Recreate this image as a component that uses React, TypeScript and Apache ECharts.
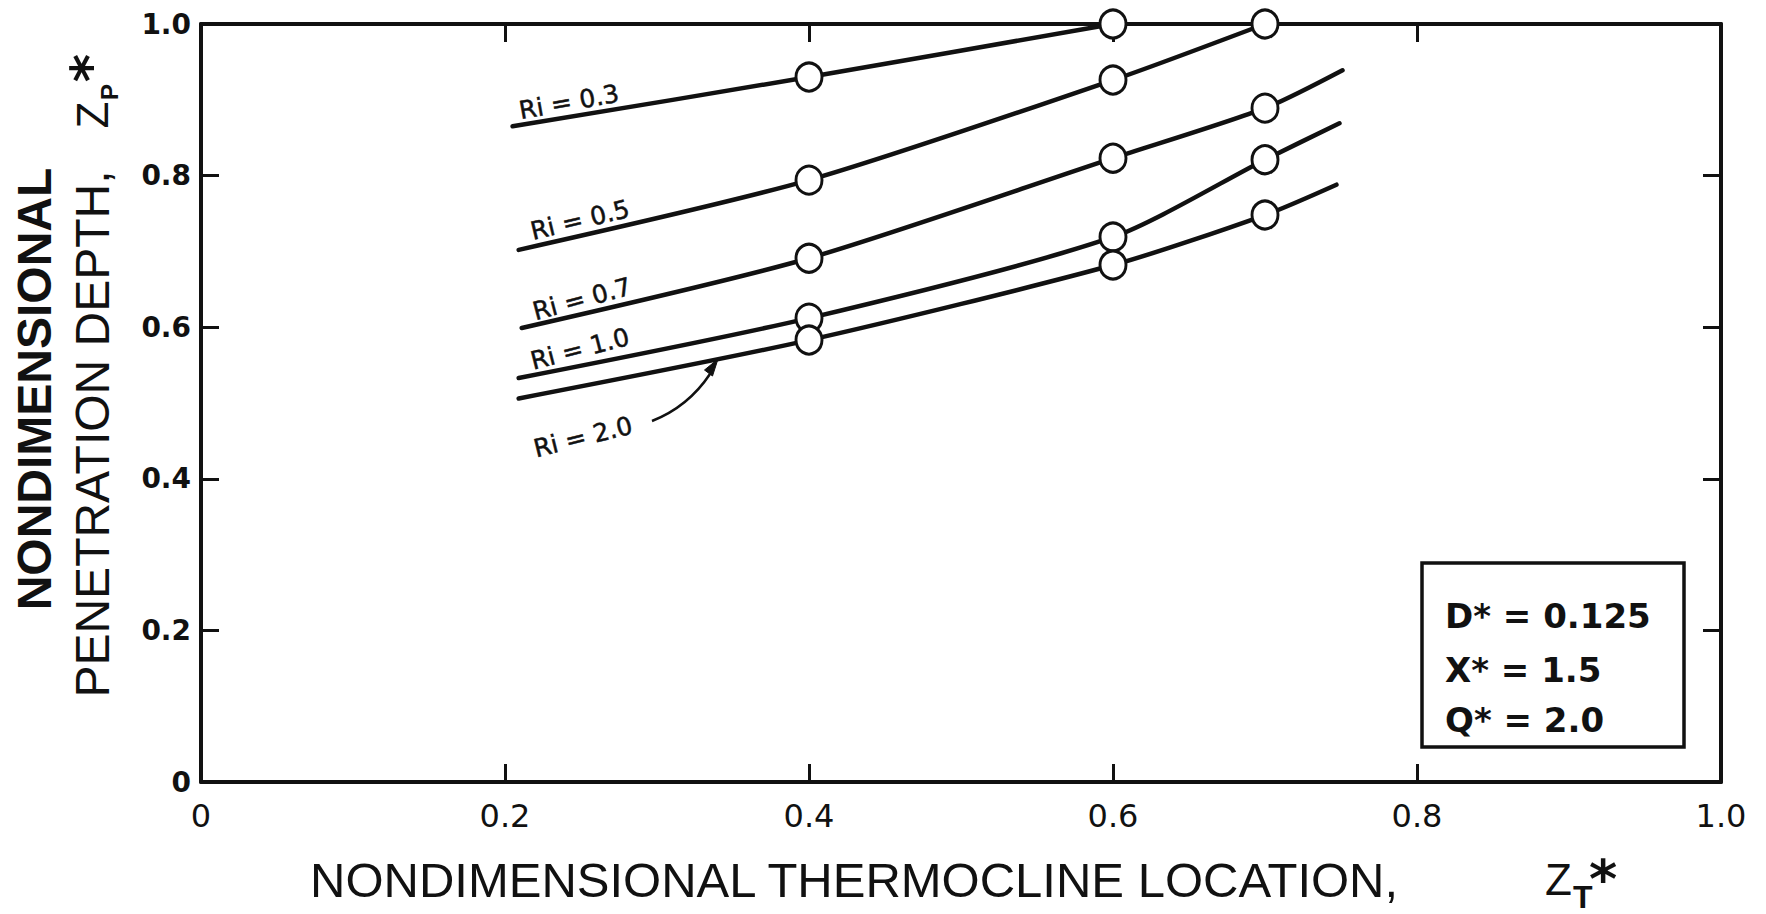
import React, { useEffect, useRef } from "react";
import * as echarts from "echarts";

const INK = "#111111";

// Axis ticks
const xTicks = [0, 0.2, 0.4, 0.6, 0.8, 1.0];
const yTicks = [0, 0.2, 0.4, 0.6, 0.8, 1.0];

// Marker locations (Z_T*)
const markerX = [0.4, 0.6, 0.7];

// Curves: [Z_T*, Z_P*]
const ri03Line: [number, number][] = [[0.205, 0.865], [0.4, 0.93], [0.6, 1.0]];
const ri05Line: [number, number][] = [[0.209, 0.702], [0.4, 0.794], [0.6, 0.926], [0.7, 1.0]];
const ri07Line: [number, number][] = [[0.211, 0.599], [0.4, 0.691], [0.6, 0.823], [0.7, 0.889], [0.751, 0.939]];
const ri10Line: [number, number][] = [[0.209, 0.533], [0.4, 0.612], [0.6, 0.719], [0.7, 0.821], [0.749, 0.869]];
const ri20Line: [number, number][] = [[0.209, 0.506], [0.4, 0.583], [0.6, 0.682], [0.7, 0.748], [0.747, 0.788]];

const seriesNames = ["Ri = 0.3", "Ri = 0.5", "Ri = 0.7", "Ri = 1.0", "Ri = 2.0"];
const seriesLines = [ri03Line, ri05Line, ri07Line, ri10Line, ri20Line];

const paramLines = ["D* = 0.125", "X* = 1.5", "Q* = 2.0"];

const fmt = (v: number) => (v === 0 ? "0" : v.toFixed(1));

const mkAxisLine = () => ({ show: true, onZero: false, lineStyle: { color: INK, width: 4 } });
const mkAxisTick = () => ({ show: true, inside: false, length: -18, lineStyle: { color: INK, width: 3 } });

export default function App() {
  const ref = useRef<HTMLDivElement>(null);
  useEffect(() => {
    const chart = echarts.init(ref.current!, null, { renderer: "svg" });

    const lineSeries = seriesLines.map((d, i) => ({
      name: seriesNames[i],
      type: "line",
      data: d,
      smooth: 0.25,
      showSymbol: false,
      clip: false,
      z: 3,
      lineStyle: { color: INK, width: 4.5, cap: "round" },
    }));

    const markerSeries = seriesLines.map((d, i) => ({
      name: seriesNames[i] + " points",
      type: "scatter",
      data: d.filter((p) => markerX.some((m) => Math.abs(m - p[0]) < 1e-9)),
      symbol: "circle",
      symbolSize: [26, 28],
      clip: false,
      z: 5,
      itemStyle: { color: "#ffffff", borderColor: INK, borderWidth: 3, opacity: 1 },
    }));

    const riLabels = [
      { t: "Ri = 0.3", x: 569, y: 102, a: 10 },
      { t: "Ri = 0.5", x: 580, y: 220, a: 13.5 },
      { t: "Ri = 0.7", x: 582, y: 299, a: 15 },
      { t: "Ri = 1.0", x: 580, y: 349, a: 14.5 },
      { t: "Ri = 2.0", x: 583, y: 437, a: 14 },
    ].map((l) => ({
      type: "text",
      x: l.x,
      y: l.y,
      rotation: (l.a * Math.PI) / 180,
      style: {
        text: l.t,
        fill: INK,
        stroke: INK,
        lineWidth: 0.5,
        font: '25px "DejaVu Sans"',
        textAlign: "center",
        textVerticalAlign: "middle",
      },
      z: 10,
    }));

    const boxTexts = paramLines.map((t, i) => ({
      type: "text",
      x: 1445,
      y: [616, 670, 720][i],
      style: {
        text: t,
        fill: INK,
        font: 'bold 34px "DejaVu Sans"',
        textAlign: "left",
        textVerticalAlign: "middle",
      },
      z: 12,
    }));

    const option = {
      animation: false,
      backgroundColor: "#ffffff",
      grid: { left: 201, right: 45, top: 24, bottom: 132, containLabel: false },
      xAxis: [
        {
          type: "value",
          min: xTicks[0],
          max: xTicks[xTicks.length - 1],
          interval: 0.2,
          position: "bottom",
          axisLine: mkAxisLine(),
          axisTick: mkAxisTick(),
          splitLine: { show: false },
          axisLabel: {
            formatter: fmt,
            color: INK,
            fontFamily: "DejaVu Sans",
            fontSize: 32,
            margin: 18,
          },
        },
        {
          type: "value",
          min: xTicks[0],
          max: xTicks[xTicks.length - 1],
          interval: 0.2,
          position: "top",
          axisLine: mkAxisLine(),
          axisTick: mkAxisTick(),
          splitLine: { show: false },
          axisLabel: { show: false },
        },
      ],
      yAxis: [
        {
          type: "value",
          min: yTicks[0],
          max: yTicks[yTicks.length - 1],
          interval: 0.2,
          position: "left",
          axisLine: mkAxisLine(),
          axisTick: mkAxisTick(),
          splitLine: { show: false },
          axisLabel: {
            formatter: fmt,
            color: INK,
            fontFamily: "DejaVu Sans",
            fontWeight: "bold",
            fontSize: 28,
            margin: 10,
          },
        },
        {
          type: "value",
          min: yTicks[0],
          max: yTicks[yTicks.length - 1],
          interval: 0.2,
          position: "right",
          axisLine: mkAxisLine(),
          axisTick: mkAxisTick(),
          splitLine: { show: false },
          axisLabel: { show: false },
        },
      ],
      series: [...lineSeries, ...markerSeries],
      graphic: [
        // x-axis title
        {
          type: "text",
          x: 310,
          y: 880,
          style: {
            text: "NONDIMENSIONAL THERMOCLINE LOCATION,",
            fill: INK,
            font: '49px "Liberation Sans"',
            textAlign: "left",
            textVerticalAlign: "middle",
          },
        },
        {
          type: "text",
          x: 1545,
          y: 879,
          style: { text: "Z", fill: INK, font: '44px "Liberation Sans"', textAlign: "left", textVerticalAlign: "middle" },
        },
        {
          type: "text",
          x: 1573,
          y: 897,
          style: { text: "T", fill: INK, font: 'bold 32px "Liberation Sans"', textAlign: "left", textVerticalAlign: "middle" },
        },
        {
          type: "text",
          x: 1603,
          y: 879,
          style: { text: "*", fill: INK, font: 'bold 54px "DejaVu Sans"', textAlign: "center", textVerticalAlign: "middle" },
        },
        // y-axis title (two lines, rotated)
        {
          type: "text",
          x: 34,
          y: 389,
          rotation: Math.PI / 2,
          style: {
            text: "NONDIMENSIONAL",
            fill: INK,
            font: 'bold 48px "Liberation Sans"',
            textAlign: "center",
            textVerticalAlign: "middle",
          },
        },
        {
          type: "text",
          x: 92,
          y: 434,
          rotation: Math.PI / 2,
          style: {
            text: "PENETRATION DEPTH,",
            fill: INK,
            font: '48px "Liberation Sans"',
            textAlign: "center",
            textVerticalAlign: "middle",
          },
        },
        {
          type: "text",
          x: 92,
          y: 115,
          rotation: Math.PI / 2,
          style: { text: "Z", fill: INK, font: '44px "Liberation Sans"', textAlign: "center", textVerticalAlign: "middle" },
        },
        {
          type: "text",
          x: 109,
          y: 92,
          rotation: Math.PI / 2,
          style: { text: "P", fill: INK, font: 'bold 24px "Liberation Sans"', textAlign: "center", textVerticalAlign: "middle" },
        },
        {
          type: "text",
          x: 90,
          y: 68,
          rotation: Math.PI / 2,
          style: { text: "*", fill: INK, font: 'bold 54px "DejaVu Sans"', textAlign: "center", textVerticalAlign: "middle" },
        },
        // curve labels
        ...riLabels,
        // arrow for Ri = 2.0
        {
          type: "bezierCurve",
          shape: { x1: 652, y1: 421, cpx1: 680, cpy1: 410, cpx2: 698, cpy2: 392, x2: 710, y2: 374 },
          style: { stroke: INK, lineWidth: 2.5, fill: null },
          z: 10,
        },
        {
          type: "polygon",
          shape: { points: [[718, 359], [704.5, 370], [712.5, 376]] },
          style: { fill: INK, stroke: INK, lineWidth: 1 },
          z: 10,
        },
        // parameter box
        {
          type: "rect",
          shape: { x: 1422, y: 563, width: 262, height: 184 },
          style: { fill: "#ffffff", stroke: INK, lineWidth: 3.5 },
          z: 11,
        },
        ...boxTexts,
      ],
    };

    chart.setOption(option as any);
    return () => chart.dispose();
  }, []);

  return (
    <div
      ref={ref}
      style={{ position: "fixed", left: 0, top: 0, width: 1766, height: 914, background: "#ffffff" }}
    />
  );
}
